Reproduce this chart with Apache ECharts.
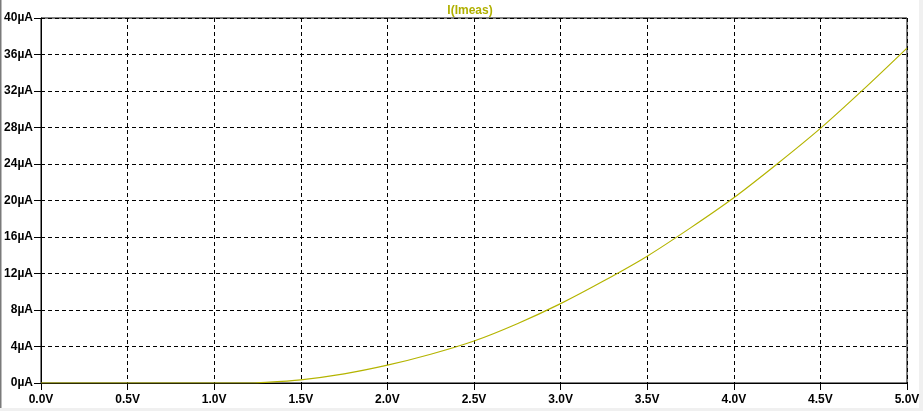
<!DOCTYPE html>
<html>
<head>
<meta charset="utf-8">
<script src="https://cdn.jsdelivr.net/npm/echarts@6/dist/echarts.min.js"></script>
<style>
html,body{margin:0;padding:0;background:#fff;}
#c{width:923px;height:411px;}
</style>
</head>
<body>
<div id="c"></div>
<script>
// Data
var titleText = 'I(Imeas)';
var voltages = [0.0, 0.5, 1.0, 1.2, 1.25, 1.5, 1.75, 2.0, 2.25, 2.5, 2.75, 3.0, 3.25, 3.5, 3.75, 4.0, 4.25, 4.5, 4.75, 5.0];
var currents = [0, 0, 0, 0, 0.02, 0.35, 1.0, 1.95, 3.15, 4.6, 6.5, 8.7, 11.2, 13.9, 17.0, 20.3, 24.0, 27.9, 32.2, 36.7];
var xTicks = [0, 0.5, 1.0, 1.5, 2.0, 2.5, 3.0, 3.5, 4.0, 4.5, 5.0];
var yTicks = [0, 4, 8, 12, 16, 20, 24, 28, 32, 36, 40];

var seriesData = voltages.map(function (v, i) { return [v, currents[i]]; });

var chart = echarts.init(document.getElementById('c'), null, {renderer: 'canvas'});
var font = '"Liberation Sans", Arial, sans-serif';
chart.setOption({
  backgroundColor: '#ffffff',
  animation: false,
  title: {
    text: titleText,
    left: 465, top: 0, textAlign: 'center',
    textStyle: {color: '#b0b000', fontSize: 12, fontWeight: 'bold', fontFamily: font}
  },
  grid: {
    left: 41, right: 16, top: 18, bottom: 28,
    show: true, borderColor: '#000', borderWidth: 1, backgroundColor: 'transparent'
  },
  xAxis: {
    type: 'value', min: xTicks[0], max: xTicks[xTicks.length - 1], interval: 0.5,
    axisLine: {show: true, onZero: false, lineStyle: {color: '#000', width: 1}},
    axisTick: {show: true, length: 7, lineStyle: {color: '#000'}},
    axisLabel: {
      margin: 11, color: '#000', fontSize: 12, fontWeight: 'bold', fontFamily: font,
      formatter: function (v) { return v.toFixed(1) + 'V'; }
    },
    splitLine: {show: true, lineStyle: {color: '#000', type: [4, 3], width: 1}}
  },
  yAxis: {
    type: 'value', min: yTicks[0], max: yTicks[yTicks.length - 1], interval: 4,
    axisLine: {show: true, onZero: false, lineStyle: {color: '#000', width: 1}},
    axisTick: {show: true, length: 7, lineStyle: {color: '#000'}},
    axisLabel: {
      margin: 8, color: '#000', fontSize: 12, fontWeight: 'bold', fontFamily: font,
      formatter: function (v) { return v + 'µA'; }
    },
    splitLine: {show: true, lineStyle: {color: '#000', type: [4, 3], width: 1}}
  },
  graphic: [
    {type: 'rect', left: 0, top: 0, shape: {width: 1.5, height: 411}, style: {fill: '#7a7a7a'}, silent: true},
    {type: 'rect', left: 919, top: 0, shape: {width: 4, height: 411}, style: {fill: '#f0f0f0'}, silent: true},
    {type: 'rect', left: 0, top: 408, shape: {width: 923, height: 3}, style: {fill: '#f0f0f0'}, silent: true}
  ],
  series: [{
    type: 'line',
    data: seriesData,
    smooth: 0.3,
    showSymbol: false,
    lineStyle: {color: '#b4b400', width: 1.2},
    clip: true
  }]
});
</script>
</body>
</html>
